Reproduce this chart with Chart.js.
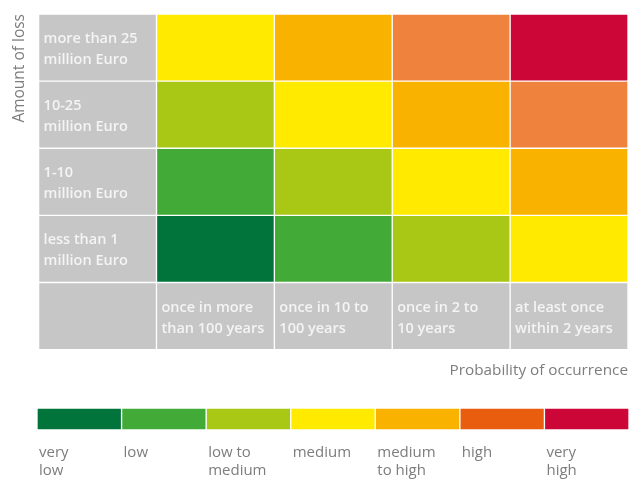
<!DOCTYPE html>
<html><head><meta charset="utf-8">
<script src="https://cdn.jsdelivr.net/npm/chart.js@4"></script>
<style>
html,body{margin:0;padding:0;background:#fff;overflow:hidden;}
#main{position:absolute;left:0;top:0;width:630px;height:392px;}
#scale{position:absolute;left:0;top:392px;width:630px;height:87px;}
</style></head><body>
<div id="main"><canvas id="c1"></canvas></div>
<div id="scale"><canvas id="c2"></canvas></div>
<script>
// Column headers (probability of occurrence), left to right
const probabilityLabels = [['once in more','than 100 years'],['once in 10 to','100 years'],['once in 2 to','10 years'],['at least once','within 2 years']];
// Row headers (amount of loss), bottom to top
const lossLabels = [['less than 1','million Euro'],['1-10','million Euro'],['10-25','million Euro'],['more than 25','million Euro']];
// Risk levels shown in the colour scale
const riskLevels = [['very','low'],['low'],['low to','medium'],['medium'],['medium','to high'],['high'],['very','high']];
// Risk level index of each cell: rows bottom to top, columns by probability
const riskMatrix = [
  [0,1,2,3],
  [1,2,3,4],
  [2,3,4,5],
  [3,4,5,6]
];
// Unit size of one cell / segment
const cellUnit = [1,1,1,1,1];

const cellColors = ['#00743A','#42AB38','#A9C715','#FFEA00','#F9B200','#EF823D','#CC0636'];
const scaleColors = ['#00743A','#42AB38','#A9C715','#FFEA00','#F9B200','#E95E0E','#CC0636'];
const GRAY = '#C6C6C6';
const TEXT_GREY = '#7D7D7D';
const FONT = 'Open Sans';

const common = {borderColor:'#FFFFFF', borderWidth:1, borderSkipped:false, barPercentage:1, categoryPercentage:1};
const datasets = [Object.assign({label:'', data: cellUnit.slice(), backgroundColor: cellUnit.map(()=>GRAY)}, common)];
lossLabels.forEach((lab,i)=>{
  datasets.push(Object.assign({label: lab.join(' '), data: cellUnit.slice(),
    backgroundColor:[GRAY].concat(riskMatrix[i].map(k=>cellColors[k]))}, common));
});

const cellText = {
  id:'cellText',
  afterDatasetsDraw(chart){
    const {ctx, scales:{x,y}} = chart;
    ctx.save();
    ctx.fillStyle = '#F4F4F4';
    ctx.font = '600 14.5px "' + FONT + '"';
    ctx.textBaseline = 'alphabetic';
    ctx.textAlign = 'left';
    const colW = x.getPixelForValue(1) - x.getPixelForValue(0);
    const draw = (lines, left, top) => lines.forEach((t,k)=>ctx.fillText(t, left+5, top+29+21*k));
    lossLabels.forEach((lab,i)=>draw(lab, x.getPixelForValue(0)-colW/2, y.getPixelForValue(i+2)));
    probabilityLabels.forEach((lab,j)=>draw(lab, x.getPixelForValue(j+1)-colW/2, y.getPixelForValue(1)));
    ctx.restore();
  }
};

new Chart(document.getElementById('c1'), {
  type:'bar',
  data:{labels:[''].concat(probabilityLabels.map(l=>l.join(' '))), datasets},
  options:{
    responsive:true, maintainAspectRatio:false, animation:false,
    layout:{padding:{left:0,right:2,top:14,bottom:12}},
    plugins:{legend:{display:false}, tooltip:{enabled:false}},
    scales:{
      x:{type:'category', stacked:true, offset:true,
         grid:{display:false,drawTicks:false}, border:{display:false}, ticks:{display:false},
         title:{display:true, text:'Probability of occurrence', align:'end', color:TEXT_GREY,
                font:{family:FONT,size:15.3,lineHeight:1.2}, padding:{top:12,bottom:0}}},
      y:{type:'linear', stacked:true, min:0, max:5,
         grid:{display:false,drawTicks:false}, border:{display:false}, ticks:{display:false},
         title:{display:true, text:'Amount of loss', align:'end', color:TEXT_GREY,
                font:{family:FONT,size:15.5,lineHeight:1.2}, padding:{top:10,bottom:10}}}
    }
  },
  plugins:[cellText]
});

new Chart(document.getElementById('c2'), {
  type:'bar',
  data:{labels:[''], datasets: riskLevels.map((lv,i)=>Object.assign({label:lv.join(' '), data:[cellUnit[0]], backgroundColor:scaleColors[i]}, common))},
  options:{
    indexAxis:'y', responsive:true, maintainAspectRatio:false, animation:false,
    layout:{padding:{left:37,right:1,top:16,bottom:0}},
    plugins:{legend:{display:false}, tooltip:{enabled:false}},
    scales:{
      x:{type:'linear', stacked:true, min:0, max:riskLevels.length,
         grid:{display:false,drawTicks:false}, border:{display:false},
         afterFit:(s)=>{ s.height = 49; s.paddingLeft = 0; s.paddingRight = 0; },
         ticks:{stepSize:1, autoSkip:false, maxRotation:0, align:'start', padding:13, labelOffset:2, color:TEXT_GREY,
                font:{family:FONT,size:15,lineHeight:1.25},
                callback:(v)=>riskLevels[v] || ''}},
      y:{stacked:true, display:false}
    }
  }
});
</script>
</body></html>
